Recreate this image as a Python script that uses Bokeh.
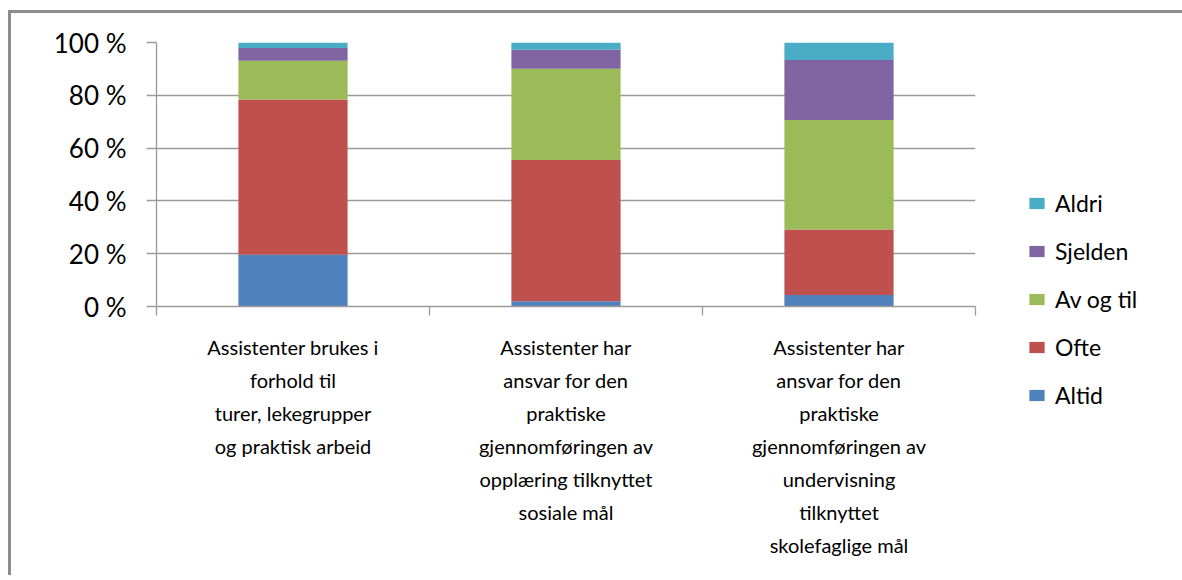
from bokeh.plotting import figure
from bokeh.models import (ColumnDataSource, Range1d, LinearAxis, FixedTicker, Legend, LegendItem)
from bokeh.embed import file_html
from bokeh.resources import INLINE

# ---- data ----
categories = [
    "Assistenter brukes i\nforhold til\nturer, lekegrupper\nog praktisk arbeid",
    "Assistenter har\nansvar for den\npraktiske\ngjennomføringen av\nopplæring tilknyttet\nsosiale mål",
    "Assistenter har\nansvar for den\npraktiske\ngjennomføringen av\nundervisning\ntilknyttet\nskolefaglige mål",
]
series = ["Altid", "Ofte", "Av og til", "Sjelden", "Aldri"]
altid = [19.6, 2.0, 4.4]
ofte = [58.8, 53.5, 24.8]
av_og_til = [14.7, 34.6, 41.4]
sjelden = [4.8, 7.2, 22.8]
aldri = [2.1, 2.7, 6.6]
colors = ["#4F81BD", "#C0504D", "#9BBB59", "#8064A2", "#4BACC6"]
y_ticks = [0, 20, 40, 60, 80, 100]
y_tick_labels = ["0 %", "20 %", "40 %", "60 %", "80 %", "100 %"]

FONT = "Lato"
GRID = "#9a9a9a"

n = len(categories)
centers = [i + 0.5 for i in range(n)]
source = ColumnDataSource(dict(x=centers, **{
    "Altid": altid, "Ofte": ofte, "Av og til": av_og_til, "Sjelden": sjelden, "Aldri": aldri}))

p = figure(x_range=Range1d(0, n), y_range=Range1d(0, 100),
           frame_width=819, frame_height=264,
           min_border_left=145, min_border_top=29, min_border_right=204, min_border_bottom=272,
           output_backend="svg", toolbar_location=None, x_axis_location=None,
           background_fill_color="white", border_fill_color="white")
p.styles = {"margin-top": "13px", "margin-left": "11px",
            "box-shadow": "-3px -3px 0px 0px #8c8c8c"}
p.outline_line_color = None

renderers = p.vbar_stack(series, x="x", width=0.4, color=colors, line_color=None, source=source)

# y axis
yax = p.yaxis[0]
yax.ticker = FixedTicker(ticks=y_ticks)
yax.major_label_overrides = {t: l for t, l in zip(y_ticks, y_tick_labels)}
yax.major_tick_out = 10
yax.major_tick_in = 0
yax.minor_tick_out = 0
yax.minor_tick_in = 0
yax.axis_line_color = GRID
yax.axis_line_width = 1.3
yax.major_tick_line_color = GRID
yax.major_tick_line_width = 1.3
yax.major_label_standoff = 20
yax.major_label_text_font = FONT
yax.major_label_text_font_size = "26px"
yax.major_label_text_color = "black"

p.ygrid.grid_line_color = GRID
p.ygrid.grid_line_width = 1.3
p.ygrid.ticker = FixedTicker(ticks=y_ticks)
p.xgrid.grid_line_color = None

# x tick axis at category boundaries
bounds = list(range(n + 1))
tick_axis = LinearAxis(ticker=FixedTicker(ticks=bounds))
tick_axis.major_label_overrides = {b: "" for b in bounds}
tick_axis.major_tick_out = 9
tick_axis.major_tick_in = 0
tick_axis.minor_tick_out = 0
tick_axis.minor_tick_in = 0
tick_axis.axis_line_color = GRID
tick_axis.axis_line_width = 1.3
tick_axis.major_tick_line_color = GRID
tick_axis.major_tick_line_width = 1.3
tick_axis.major_label_text_font_size = "1px"
tick_axis.major_label_standoff = 0
p.add_layout(tick_axis, "below")

# category labels axis
cat_axis = LinearAxis(ticker=FixedTicker(ticks=centers))
cat_axis.major_label_overrides = {c: l for c, l in zip(centers, categories)}
cat_axis.axis_line_color = None
cat_axis.major_tick_line_color = None
cat_axis.minor_tick_line_color = None
cat_axis.major_tick_out = 0
cat_axis.major_tick_in = 0
cat_axis.minor_tick_out = 0
cat_axis.major_label_standoff = 19
cat_axis.major_label_text_font = FONT
cat_axis.major_label_text_font_size = "20px"
cat_axis.major_label_text_line_height = 1.375
cat_axis.major_label_text_color = "black"
p.add_layout(cat_axis, "below")

# legend (reverse order, top = Aldri)
items = [LegendItem(label=name, renderers=[r]) for name, r in zip(series, renderers)][::-1]
legend = Legend(items=items, location=(52, -103), orientation="vertical",
                padding=0, margin=0, border_line_color=None, background_fill_alpha=0,
                glyph_width=19, glyph_height=14, label_height=28, spacing=20,
                label_standoff=9, label_text_font=FONT, label_text_font_size="23px",
                label_text_color="black")
p.add_layout(legend, "right")

open("out.html", "w").write(file_html(p, INLINE))
